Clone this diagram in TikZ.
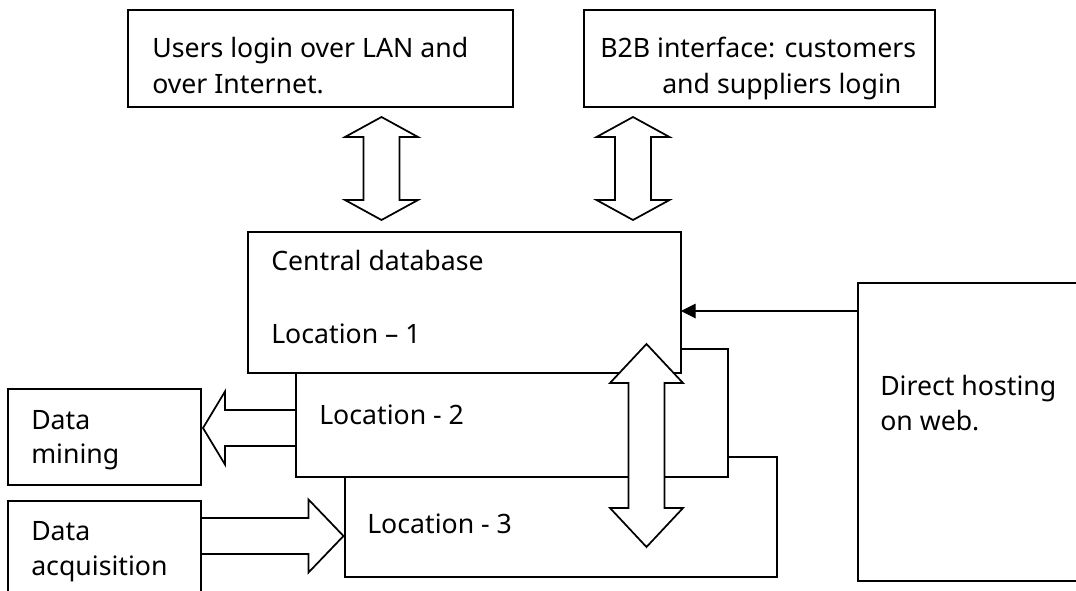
\documentclass[tikz,border=0pt]{standalone}
\usepackage{fontspec}
\setmainfont{Noto Sans}
\usetikzlibrary{arrows.meta}

% vertical double block arrow: centre x, top tip y, bottom tip y, head length
\newcommand\dblarrowv[4]{%
  \draw[blockarrow] (#1,#2) -- ({#1+36.5},{#2+#4}) -- ({#1+18},{#2+#4})
    -- ({#1+18},{#3-#4}) -- ({#1+36.5},{#3-#4}) -- (#1,#3)
    -- ({#1-36.5},{#3-#4}) -- ({#1-18},{#3-#4}) -- ({#1-18},{#2+#4})
    -- ({#1-36.5},{#2+#4}) -- cycle;}
% horizontal single block arrow: tail x, tip x, centre y, head length (signed)
\newcommand\sglarrowh[4]{%
  \draw[blockarrow] (#1,{#3-18}) -- ({#2-#4},{#3-18}) -- ({#2-#4},{#3-36.5})
    -- (#2,#3) -- ({#2-#4},{#3+36.5}) -- ({#2-#4},{#3+18})
    -- (#1,{#3+18}) -- cycle;}
% plain box given by its top-left corner and size, in pixels
\newcommand\panelat[5]{%
  \node[panel, anchor=north west, minimum width={#4*0.75pt},
        minimum height={#5*0.75pt}] (#1) at (#2,#3) {};}

\begin{document}
\begin{tikzpicture}[x=0.75pt, y=-0.75pt,
  panel/.style={draw, line width=1.5pt, fill=white, inner sep=0pt, outer sep=0pt},
  blockarrow/.style={draw, line width=1.3pt, fill=white, line join=miter},
  conn/.style={line width=0.8pt, -{Triangle[length=11pt, width=11pt]}},
  txt/.style={inner sep=0pt, anchor=base west, font=\fontsize{20}{24}\selectfont}]
\clip (0,0) rectangle (1076,590);
\fill[white] (0,0) rectangle (1076,590);

% top row
\panelat{users}{128}{10}{385}{97}
\node[txt] (u1) at (152,57) {Users login over LAN and};
\node[txt] (u2) at (152,93) {over Internet.};

\panelat{b2b}{584}{10}{351}{97}
\node[txt] (b1) at (600,57) {B2B interface: customers};
\node[txt] (b2) at (662,93) {and suppliers login};

% stacked location boxes, back to front
\panelat{loc3}{345}{457}{432}{120}
\panelat{loc2}{296}{349}{432}{128}
\panelat{loc1}{248}{232}{433}{141}
\node[txt] (c1) at (271,270) {Central database};
\node[txt] (c2) at (271,343) {Location – 1};
\node[txt] (l2) at (319,424) {Location - 2};
\node[txt] (l3) at (367,533) {Location - 3};

% side boxes
\panelat{mining}{8}{389}{193}{96}
\node[txt] (m1) at (31,429) {Data};
\node[txt] (m2) at (31,463) {mining};

\panelat{acq}{8}{501}{193}{110}
\node[txt] (a1) at (31,540) {Data};
\node[txt] (a2) at (31,575) {acquisition};

\panelat{host}{858}{283}{240}{298}
\node[txt] (h1) at (880,395) {Direct hosting};
\node[txt] (h2) at (880,430) {on web.};

% block arrows
\dblarrowv{381.5}{117}{220}{20}
\dblarrowv{633}{117}{220}{20}
\dblarrowv{646.5}{344}{547}{39}
\sglarrowh{296}{203}{428}{-22}
\sglarrowh{201}{343.5}{536}{35}

% web hosting feed into the central database
\coordinate (feed) at (0,311);
\draw[conn] (host.west |- feed) -- (loc1.east |- feed);
\end{tikzpicture}
\end{document}
